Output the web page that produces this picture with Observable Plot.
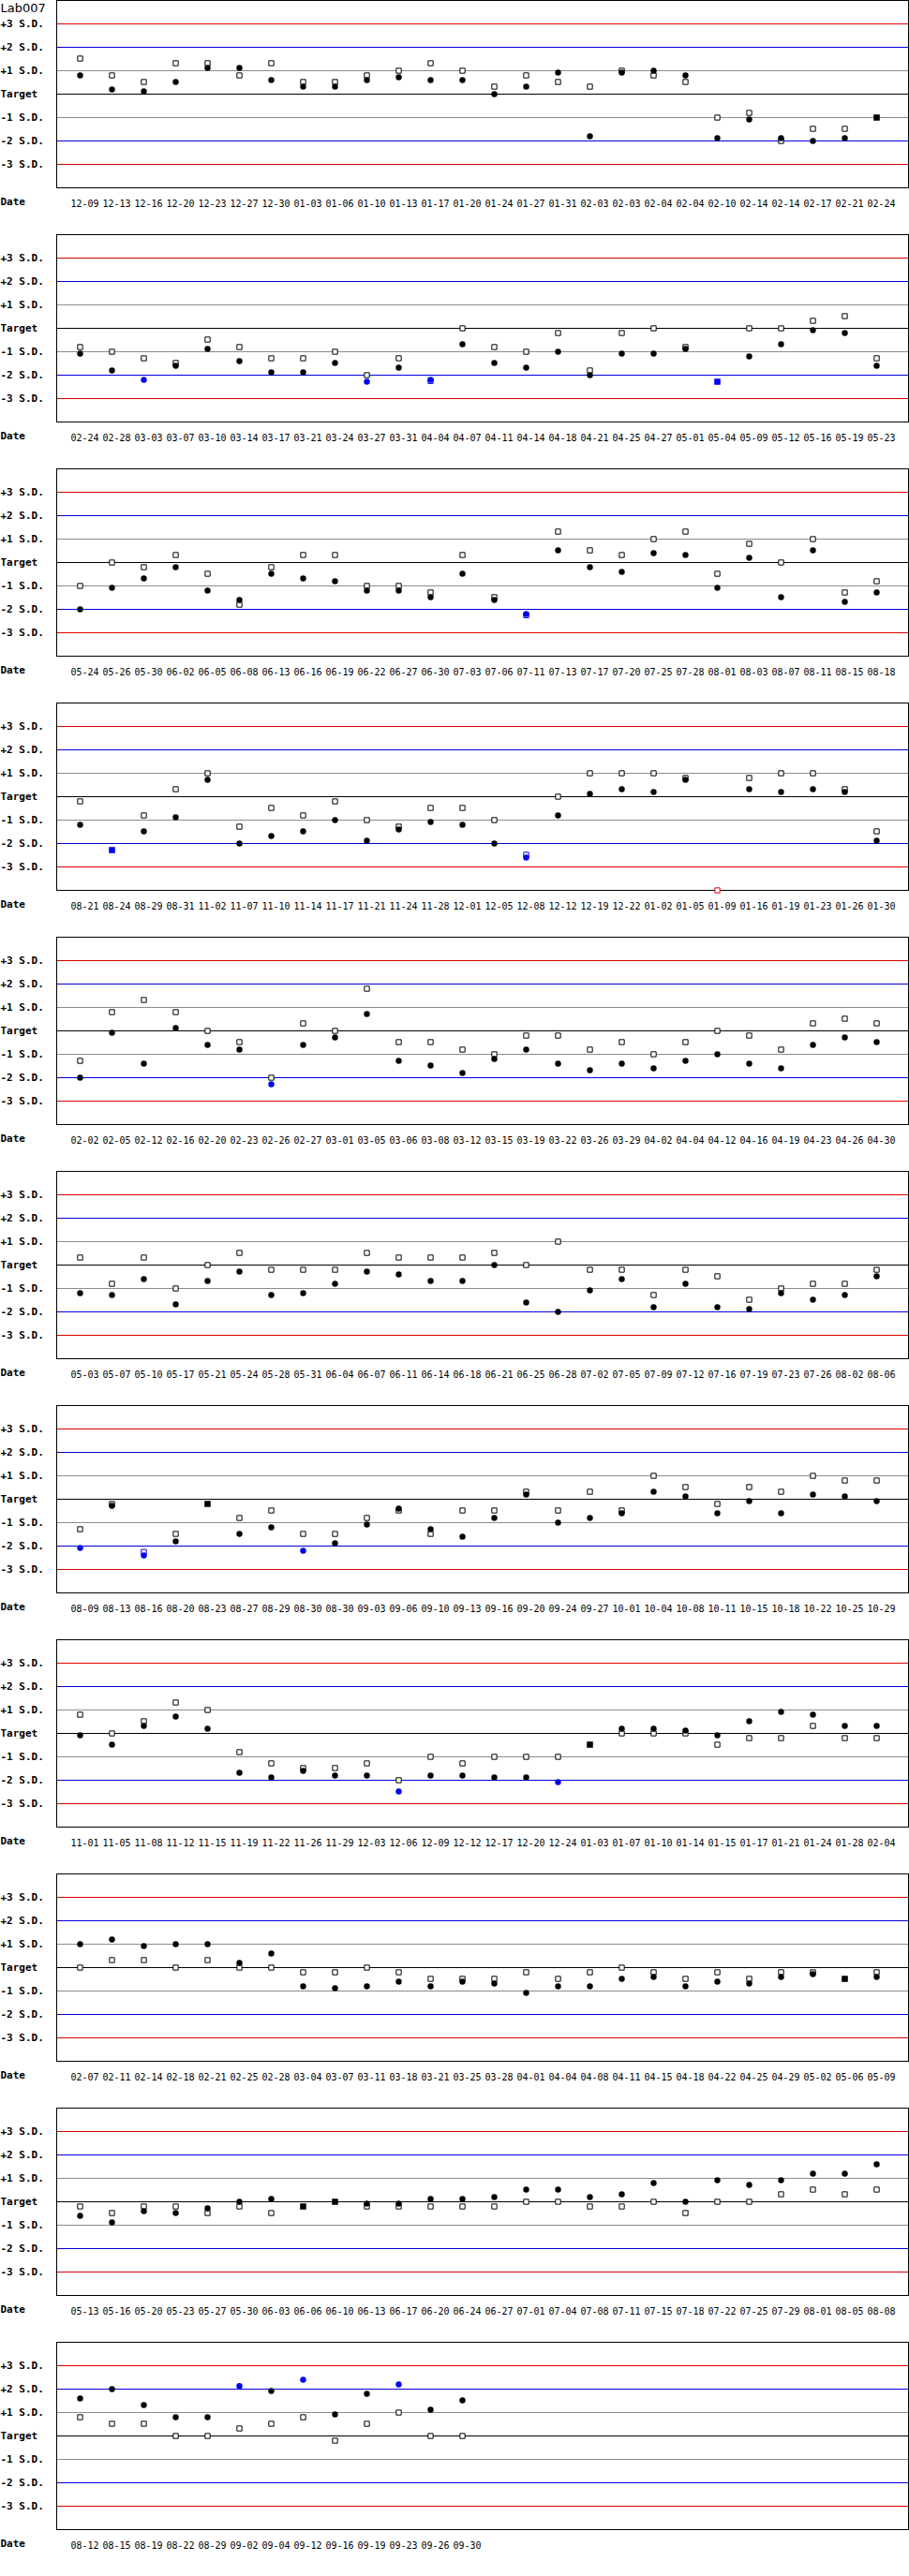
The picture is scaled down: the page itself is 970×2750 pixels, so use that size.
<!DOCTYPE html>
<html>
<head>
<meta charset="utf-8">
<script src="https://cdn.jsdelivr.net/npm/d3@7"></script>
<script src="https://cdn.jsdelivr.net/npm/@observablehq/plot@0.6"></script>
<style>
  html, body { margin: 0; padding: 0; background: white; }
  #chart svg { display: block; }
</style>
</head>
<body>
<div id="chart"></div>
<script>
const _ = null;
const title = "Lab007";
const sdValues = [3, 2, 1, 0, -1, -2, -3];
const sdLabels = ["+3 S.D.", "+2 S.D.", "+1 S.D.", "Target", "-1 S.D.", "-2 S.D.", "-3 S.D."];

const dates1 = ["12-09","12-13","12-16","12-20","12-23","12-27","12-30","01-03","01-06","01-10","01-13","01-17","01-20","01-24","01-27","01-31","02-03","02-03","02-04","02-04","02-10","02-14","02-14","02-17","02-21","02-24"];
const square1 = [1.52,0.8,0.52,1.32,1.32,0.8,1.32,0.52,0.52,0.8,1.0,1.32,1.0,0.32,0.8,0.52,0.32,1.0,0.8,0.52,-1.0,-0.8,-2.0,-1.48,-1.48,_];
const circle1 = [0.8,0.2,0.12,0.52,1.12,1.12,0.6,0.32,0.32,0.6,0.72,0.6,0.6,0,0.32,0.92,-1.8,0.92,1.0,0.8,-1.88,-1.08,-1.88,-2.0,-1.88,_];
const solid1  = [_,_,_,_,_,_,_,_,_,_,_,_,_,_,_,_,_,_,_,_,_,_,_,_,_,-1.0];

const dates2 = ["02-24","02-28","03-03","03-07","03-10","03-14","03-17","03-21","03-24","03-27","03-31","04-04","04-07","04-11","04-14","04-18","04-21","04-25","04-27","05-01","05-04","05-09","05-12","05-16","05-19","05-23"];
const square2 = [-0.8,-1.0,-1.28,-1.48,-0.48,-0.8,-1.28,-1.28,-1.0,-2.0,-1.28,-2.25,0,-0.8,-1.0,-0.2,-1.8,-0.2,0,-0.8,_,0,0,0.32,0.52,-1.28];
const circle2 = [-1.08,-1.8,-2.2,-1.6,-0.88,-1.4,-1.88,-1.88,-1.48,-2.28,-1.68,-2.2,-0.68,-1.48,-1.68,-1.0,-2.0,-1.08,-1.08,-0.88,_,-1.2,-0.68,-0.08,-0.2,-1.6];
const solid2  = [_,_,_,_,_,_,_,_,_,_,_,_,_,_,_,_,_,_,_,_,-2.28,_,_,_,_,_];

const dates3 = ["05-24","05-26","05-30","06-02","06-05","06-08","06-13","06-16","06-19","06-22","06-27","06-30","07-03","07-06","07-11","07-13","07-17","07-20","07-25","07-28","08-01","08-03","08-07","08-11","08-15","08-18"];
const square3 = [-1.0,0,-0.2,0.32,-0.48,-1.8,-0.2,0.32,0.32,-1.0,-1.0,-1.28,0.32,-1.48,-2.25,1.32,0.52,0.32,1.0,1.32,-0.48,0.8,0,1.0,-1.28,-0.8];
const circle3 = [-2.0,-1.08,-0.68,-0.2,-1.2,-1.6,-0.48,-0.68,-0.8,-1.2,-1.2,-1.48,-0.48,-1.6,-2.2,0.52,-0.2,-0.4,0.4,0.32,-1.08,0.2,-1.48,0.52,-1.68,-1.28];
const solid3  = [];

const dates4 = ["08-21","08-24","08-29","08-31","11-02","11-07","11-10","11-14","11-17","11-21","11-24","11-28","12-01","12-05","12-08","12-12","12-19","12-22","01-02","01-05","01-09","01-16","01-19","01-23","01-26","01-30"];
const square4 = [-0.2,_,-0.8,0.32,1.0,-1.28,-0.48,-0.8,-0.2,-1.0,-1.28,-0.48,-0.48,-1.0,-2.48,0,1.0,1.0,1.0,0.8,-4,0.8,1.0,1.0,0.32,-1.48];
const circle4 = [-1.2,_,-1.48,-0.88,0.72,-2.0,-1.68,-1.48,-1.0,-1.88,-1.4,-1.08,-1.2,-2.0,-2.6,-0.8,0.12,0.32,0.2,0.72,_,0.32,0.2,0.32,0.2,-1.88];
const solid4  = [_,-2.28,_,_,_,_,_,_,_,_,_,_,_,_,_,_,_,_,_,_,_,_,_,_,_,_];

const dates5 = ["02-02","02-05","02-12","02-16","02-20","02-23","02-26","02-27","03-01","03-05","03-06","03-08","03-12","03-15","03-19","03-22","03-26","03-29","04-02","04-04","04-12","04-16","04-19","04-23","04-26","04-30"];
const square5 = [-1.28,0.8,1.32,0.8,0,-0.48,-2.0,0.32,0,1.8,-0.48,-0.48,-0.8,-1.0,-0.2,-0.2,-0.8,-0.48,-1.0,-0.48,0,-0.2,-0.8,0.32,0.52,0.32];
const circle5 = [-2.0,-0.08,-1.4,0.12,-0.6,-0.8,-2.28,-0.6,-0.28,0.72,-1.28,-1.48,-1.8,-1.2,-0.8,-1.4,-1.68,-1.4,-1.6,-1.28,-1.0,-1.4,-1.6,-0.6,-0.28,-0.48];
const solid5  = [];

const dates6 = ["05-03","05-07","05-10","05-17","05-21","05-24","05-28","05-31","06-04","06-07","06-11","06-14","06-18","06-21","06-25","06-28","07-02","07-05","07-09","07-12","07-16","07-19","07-23","07-26","08-02","08-06"];
const square6 = [0.32,-0.8,0.32,-1.0,0,0.52,-0.2,-0.2,-0.2,0.52,0.32,0.32,0.32,0.52,0,1.0,-0.2,-0.2,-1.28,-0.2,-0.48,-1.48,-1.0,-0.8,-0.8,-0.2];
const circle6 = [-1.2,-1.28,-0.6,-1.68,-0.68,-0.28,-1.28,-1.2,-0.8,-0.28,-0.4,-0.68,-0.68,0,-1.6,-2.0,-1.08,-0.6,-1.8,-0.8,-1.8,-1.88,-1.2,-1.48,-1.28,-0.48];
const solid6  = [];

const dates7 = ["08-09","08-13","08-16","08-20","08-23","08-27","08-29","08-30","08-30","09-03","09-06","09-10","09-13","09-16","09-20","09-24","09-27","10-01","10-04","10-08","10-11","10-15","10-18","10-22","10-25","10-29"];
const square7 = [-1.28,-0.2,-2.25,-1.48,_,-0.8,-0.48,-1.48,-1.48,-0.8,-0.48,-1.48,-0.48,-0.48,0.32,-0.48,0.32,-0.48,1.0,0.52,-0.2,0.52,0.32,1.0,0.8,0.8];
const circle7 = [-2.08,-0.28,-2.4,-1.8,_,-1.48,-1.2,-2.2,-1.88,-1.08,-0.4,-1.28,-1.6,-0.8,0.2,-1.0,-0.8,-0.6,0.32,0.12,-0.6,-0.08,-0.6,0.2,0.12,-0.08];
const solid7  = [_,_,_,_,-0.2,_,_,_,_,_,_,_,_,_,_,_,_,_,_,_,_,_,_,_,_,_];

const dates8 = ["11-01","11-05","11-08","11-12","11-15","11-19","11-22","11-26","11-29","12-03","12-06","12-09","12-12","12-17","12-20","12-24","01-03","01-07","01-10","01-14","01-15","01-17","01-21","01-24","01-28","02-04"];
const square8 = [0.8,0,0.52,1.32,1.0,-0.8,-1.28,-1.48,-1.48,-1.28,-2.0,-1.0,-1.28,-1.0,-1.0,-1.0,_,0,0,0,-0.48,-0.2,-0.2,0.32,-0.2,-0.2];
const circle8 = [-0.08,-0.48,0.32,0.72,0.2,-1.68,-1.88,-1.6,-1.8,-1.8,-2.48,-1.8,-1.8,-1.88,-1.88,-2.08,_,0.2,0.2,0.12,-0.08,0.52,0.92,0.8,0.32,0.32];
const solid8  = [_,_,_,_,_,_,_,_,_,_,_,_,_,_,_,_,-0.48,_,_,_,_,_,_,_,_,_];

const dates9 = ["02-07","02-11","02-14","02-18","02-21","02-25","02-28","03-04","03-07","03-11","03-18","03-21","03-25","03-28","04-01","04-04","04-08","04-11","04-15","04-18","04-22","04-25","04-29","05-02","05-06","05-09"];
const square9 = [0,0.32,0.32,0,0.32,0,0,-0.2,-0.2,0,-0.2,-0.48,-0.48,-0.48,-0.2,-0.48,-0.2,0,-0.2,-0.48,-0.2,-0.48,-0.2,-0.2,_,-0.2];
const circle9 = [1.0,1.2,0.92,1.0,1.0,0.2,0.6,-0.8,-0.88,-0.8,-0.6,-0.8,-0.6,-0.68,-1.08,-0.8,-0.8,-0.48,-0.4,-0.8,-0.6,-0.68,-0.4,-0.28,_,-0.4];
const solid9  = [_,_,_,_,_,_,_,_,_,_,_,_,_,_,_,_,_,_,_,_,_,_,_,_,-0.48,_];

const dates10 = ["05-13","05-16","05-20","05-23","05-27","05-30","06-03","06-06","06-10","06-13","06-17","06-20","06-24","06-27","07-01","07-04","07-08","07-11","07-15","07-18","07-22","07-25","07-29","08-01","08-05","08-08"];
const square10 = [-0.2,-0.48,-0.2,-0.2,-0.48,-0.2,-0.48,_,_,-0.2,-0.2,-0.2,-0.2,-0.2,0,0,-0.2,-0.2,0,-0.48,0,0,0.32,0.52,0.32,0.52];
const circle10 = [-0.6,-0.88,-0.4,-0.48,-0.28,0,0.12,_,_,-0.08,-0.08,0.12,0.12,0.2,0.52,0.52,0.2,0.32,0.8,0,0.92,0.72,0.92,1.2,1.2,1.6];
const solid10  = [_,_,_,_,_,_,_,-0.2,0,_,_,_,_,_,_,_,_,_,_,_,_,_,_,_,_,_];

const dates11 = ["08-12","08-15","08-19","08-22","08-29","09-02","09-04","09-12","09-16","09-19","09-23","09-26","09-30"];
const square11 = [0.8,0.52,0.52,0,0,0.32,0.52,0.8,-0.2,0.52,1.0,0,0];
const circle11 = [1.6,2.0,1.32,0.8,0.8,2.13,1.92,2.4,0.92,1.8,2.2,1.12,1.52];
const solid11  = [];

const panels = [
  [dates1, circle1, square1, solid1],
  [dates2, circle2, square2, solid2],
  [dates3, circle3, square3, solid3],
  [dates4, circle4, square4, solid4],
  [dates5, circle5, square5, solid5],
  [dates6, circle6, square6, solid6],
  [dates7, circle7, square7, solid7],
  [dates8, circle8, square8, solid8],
  [dates9, circle9, square9, solid9],
  [dates10, circle10, square10, solid10],
  [dates11, circle11, square11, solid11]
];

const RED = "#dd0000", BLUE = "#0000dd", GRAY = "#8c8c8c";
const ruleColor = v => Math.abs(v) === 3 ? RED : Math.abs(v) === 2 ? BLUE : Math.abs(v) === 1 ? GRAY : "#000";
const pointColor = v => Math.abs(v) > 3 ? RED : Math.abs(v) > 2 ? "#0000ee" : "#000";
const slots = d3.range(26);
const mono = "DejaVu Sans Mono";

function pts(arr) {
  return arr.map((v, i) => ({i, v})).filter(d => d.v != null);
}

function panel(k, dates, circle, square, solid) {
  const marks = [
    Plot.ruleY(sdValues, {y: d => d, stroke: d => ruleColor(d), strokeWidth: 1}),
    Plot.frame({stroke: "#000", strokeWidth: 1}),
    Plot.dot(pts(square), {x: "i", y: "v", symbol: "square", r: 3.0, fill: "white",
      stroke: d => pointColor(d.v), strokeWidth: 1, dx: -5}),
    Plot.dot(pts(circle), {x: "i", y: "v", r: 3.2, fill: d => pointColor(d.v), stroke: null, dx: -5}),
    Plot.dot(pts(solid), {x: "i", y: "v", symbol: "square", r: 3.7, fill: d => pointColor(d.v), stroke: null, dx: -5}),
    Plot.text(sdValues, {y: d => d, text: (d, i) => sdLabels[i], frameAnchor: "left", dx: -60,
      textAnchor: "start", lineAnchor: "middle", fontFamily: mono, fontWeight: "bold", fontSize: 11, fill: "#000"}),
    Plot.text(["Date"], {frameAnchor: "bottom-left", dx: -60, dy: 15, textAnchor: "start", lineAnchor: "middle",
      fontFamily: mono, fontWeight: "bold", fontSize: 11, fill: "#000"}),
    Plot.text(dates, {x: (d, i) => i, text: d => d, frameAnchor: "bottom", dy: 17.5, lineAnchor: "middle",
      fontFamily: mono, fontSize: 10, fill: "#000"})
  ];
  if (k === 0) {
    marks.push(Plot.text([title], {frameAnchor: "top-left", dx: -60, dy: 8, textAnchor: "start", lineAnchor: "middle",
      fontFamily: "DejaVu Sans", fontSize: 13, fill: "#000"}));
  }
  return Plot.plot({
    width: 970,
    height: 250,
    marginLeft: 60,
    marginRight: 1,
    marginTop: 0,
    marginBottom: 50,
    style: {background: "white", fontFamily: mono, fontSize: "10px", overflow: "visible"},
    x: {type: "band", domain: slots, padding: 0, axis: null},
    y: {domain: [-4, 4], axis: null},
    marks
  });
}

const container = document.getElementById("chart");
panels.forEach((p, k) => container.appendChild(panel(k, ...p)));
</script>
</body>
</html>
